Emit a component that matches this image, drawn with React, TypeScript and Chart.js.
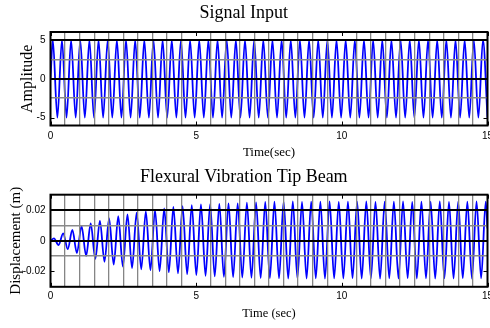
import React, { useEffect, useRef } from 'react';
import { Chart, registerables } from 'chart.js';

Chart.register(...registerables);

// ---------------- data ----------------
// Signal Input: times (s) of the start, every peak/trough, and the end
const TOP_TIMES = [
  0, 0.079, 0.236, 0.393, 0.55, 0.707, 0.864, 1.021, 1.178, 1.335, 1.492,
  1.649, 1.806, 1.963, 2.12, 2.278, 2.435, 2.592, 2.749, 2.906, 3.063,
  3.22, 3.377, 3.534, 3.691, 3.848, 4.005, 4.163, 4.32, 4.477, 4.634,
  4.791, 4.948, 5.105, 5.262, 5.419, 5.576, 5.733, 5.89, 6.048, 6.205,
  6.362, 6.519, 6.676, 6.833, 6.99, 7.147, 7.304, 7.461, 7.618, 7.775,
  7.933, 8.09, 8.247, 8.404, 8.561, 8.718, 8.875, 9.032, 9.189, 9.346,
  9.503, 9.66, 9.817, 9.975, 10.132, 10.289, 10.446, 10.603, 10.76, 10.917,
  11.074, 11.231, 11.388, 11.545, 11.702, 11.86, 12.017, 12.174, 12.331, 12.488,
  12.645, 12.802, 12.959, 13.116, 13.273, 13.43, 13.587, 13.745, 13.902, 14.059,
  14.216, 14.373, 14.53, 14.687, 14.844, 15,
];
const TOP_VALUES = [
  0, 5, -5, 5, -5, 5, -5, 5, -5, 5, -5,
  5, -5, 5, -5, 5, -5, 5, -5, 5, -5,
  5, -5, 5, -5, 5, -5, 5, -5, 5, -5,
  5, -5, 5, -5, 5, -5, 5, -5, 5, -5,
  5, -5, 5, -5, 5, -5, 5, -5, 5, -5,
  5, -5, 5, -5, 5, -5, 5, -5, 5, -5,
  5, -5, 5, -5, 5, -5, 5, -5, 5, -5,
  5, -5, 5, -5, 5, -5, 5, -5, 5, -5,
  5, -5, 5, -5, 5, -5, 5, -5, 5, -5,
  5, -5, 5, -5, 5, -5,
];

// Flexural Vibration Tip Beam: times (s) of the start, every peak/trough, and the end
const BOTTOM_TIMES = [
  0, 0.119, 0.277, 0.434, 0.592, 0.75, 0.907, 1.065, 1.223, 1.38, 1.538,
  1.696, 1.853, 2.011, 2.169, 2.326, 2.484, 2.642, 2.799, 2.957, 3.115,
  3.272, 3.43, 3.588, 3.745, 3.903, 4.061, 4.218, 4.376, 4.533, 4.691,
  4.849, 5.006, 5.164, 5.322, 5.479, 5.637, 5.795, 5.952, 6.11, 6.268,
  6.425, 6.583, 6.741, 6.898, 7.056, 7.214, 7.371, 7.529, 7.687, 7.844,
  8.002, 8.16, 8.317, 8.475, 8.633, 8.79, 8.948, 9.106, 9.263, 9.421,
  9.579, 9.736, 9.894, 10.052, 10.209, 10.367, 10.525, 10.682, 10.84, 10.998,
  11.155, 11.313, 11.471, 11.628, 11.786, 11.944, 12.101, 12.259, 12.416, 12.574,
  12.732, 12.889, 13.047, 13.205, 13.362, 13.52, 13.678, 13.835, 13.993, 14.151,
  14.308, 14.466, 14.624, 14.781, 14.939, 15,
];
const BOTTOM_VALUES = [
  0, 0.0015, -0.0028, 0.0048, -0.0054, 0.007, -0.008, 0.0096, -0.0098, 0.0113, -0.0118,
  0.013, -0.0137, 0.0146, -0.0155, 0.016, -0.0168, 0.0172, -0.0178, 0.0183, -0.0186,
  0.0192, -0.0192, 0.02, -0.0198, 0.021, -0.0205, 0.022, -0.0212, 0.0226, -0.0218,
  0.0232, -0.0224, 0.0236, -0.0228, 0.0239, -0.0232, 0.024, -0.0235, 0.0243, -0.0237,
  0.0244, -0.024, 0.0249, -0.0241, 0.025, -0.0243, 0.0253, -0.0244, 0.0255, -0.0245,
  0.0254, -0.0246, 0.0256, -0.0244, 0.0253, -0.0246, 0.0255, -0.0245, 0.0254, -0.0247,
  0.0256, -0.0245, 0.0253, -0.0246, 0.0255, -0.0244, 0.0254, -0.0246, 0.0256, -0.0245,
  0.0253, -0.0247, 0.0255, -0.0245, 0.0254, -0.0246, 0.0256, -0.0244, 0.0253, -0.0246,
  0.0255, -0.0245, 0.0254, -0.0247, 0.0256, -0.0245, 0.0253, -0.0246, 0.0255, -0.0244,
  0.0254, -0.0246, 0.0256, -0.0245, 0.0254, 0.008,
];

// tick labels
const X_LABEL_TICKS = [0, 5, 10, 15];
const TOP_Y_LABEL_TICKS = [-5, 0, 5];
const TOP_Y_DARK_LINES = [0, 5];
const BOTTOM_Y_LABEL_TICKS = [-0.02, 0, 0.02];
const BOTTOM_Y_LABEL_TEXT = ['-0.02', '0', '0.02'];
const BOTTOM_Y_DARK_LINES = [0, 0.02];

// ---------------- styling ----------------
const SERIF = '"Liberation Serif", "Times New Roman", Times, serif';
const NARROW = '"Liberation Sans Narrow", "Arial Narrow", "Liberation Sans", Arial, sans-serif';
const BLUE = '#0000ff';
const GRAY_V = '#858585';
const GRAY_H = '#8a8a8a';

const near = (a: number, b: number) => Math.abs(a - b) < 1e-9 + Math.abs(b) * 1e-6;
const inList = (v: number, list: number[]) => list.some((x) => near(v, x));

const framePlugin = {
  id: 'matlabFrame',
  afterDraw(chart: any, _args: any, opts: any) {
    const { ctx, chartArea: a, scales } = chart;
    ctx.save();
    ctx.strokeStyle = '#000';
    ctx.lineWidth = 1;
    const L = 4;
    ctx.beginPath();
    for (const v of opts.xTicks) {
      const p = Math.round(scales.x.getPixelForValue(v)) + 0.5;
      ctx.moveTo(p, a.bottom);
      ctx.lineTo(p, a.bottom - L);
      ctx.moveTo(p, a.top);
      ctx.lineTo(p, a.top + L);
    }
    for (const v of opts.yTicks) {
      const p = Math.round(scales.y.getPixelForValue(v)) + 0.5;
      ctx.moveTo(a.left, p);
      ctx.lineTo(a.left + L, p);
      ctx.moveTo(a.right, p);
      ctx.lineTo(a.right - L, p);
    }
    ctx.stroke();
    ctx.lineWidth = 2;
    ctx.strokeRect(a.left, a.top, a.right - a.left, a.bottom - a.top);
    ctx.restore();
  },
};

interface PanelSpec {
  times: number[];
  values: number[];
  title: string;
  xTitle: string;
  yTitle: string;
  yMin: number;
  yMax: number;
  yStep: number;
  yLabelTicks: number[];
  yLabelText: (v: number) => string;
  yDark: number[];
  yTitleSize: number;
  xTitleSize: number;
  geom: {
    titleTop: number;
    titleBottom: number;
    xAxisHeight: number;
    xTickPad: number;
    xTitleBottom: number;
    yTitleTop: number;
  };
}

function buildConfig(s: PanelSpec): any {
  const points = s.times.map((t, i) => ({ x: t, y: s.values[i] }));
  return {
    type: 'line',
    data: {
      datasets: [
        {
          data: points,
          borderColor: BLUE,
          borderWidth: 1.8,
          pointRadius: 0,
          cubicInterpolationMode: 'monotone',
          tension: 0.3,
          fill: false,
        },
      ],
    },
    plugins: [framePlugin],
    options: {
      responsive: false,
      animation: false,
      devicePixelRatio: 1,
      layout: { padding: { left: 0, right: 2.5, top: 0, bottom: 0 } },
      plugins: {
        legend: { display: false },
        tooltip: { enabled: false },
        title: {
          display: true,
          text: s.title,
          color: '#000',
          font: { family: SERIF, size: 18, weight: 'normal' },
          padding: { top: s.geom.titleTop, bottom: s.geom.titleBottom },
        },
        matlabFrame: { xTicks: X_LABEL_TICKS, yTicks: s.yLabelTicks },
      },
      scales: {
        x: {
          type: 'linear',
          min: 0,
          max: 15,
          border: { display: false },
          grid: {
            z: 1,
            drawTicks: false,
            color: (ctx: any) => (inList(ctx.tick.value, X_LABEL_TICKS) ? 'rgba(0,0,0,0)' : GRAY_V),
            lineWidth: 1.3,
          },
          ticks: {
            stepSize: 0.5,
            autoSkip: false,
            maxRotation: 0,
            minRotation: 0,
            padding: s.geom.xTickPad,
            color: '#000',
            font: { family: NARROW, size: 10 },
            callback: (v: number) => (inList(v, X_LABEL_TICKS) ? String(Math.round(v)) : ''),
          },
          title: {
            display: true,
            text: s.xTitle,
            color: '#000',
            font: { family: SERIF, size: s.xTitleSize },
            padding: { top: 0, bottom: s.geom.xTitleBottom },
          },
          afterFit: (sc: any) => {
            sc.height = s.geom.xAxisHeight;
            sc.paddingLeft = 0;
            sc.paddingRight = 0;
          },
        },
        y: {
          type: 'linear',
          min: s.yMin,
          max: s.yMax,
          border: { display: false },
          grid: {
            z: 1,
            drawTicks: false,
            color: (ctx: any) => {
              const v = ctx.tick.value;
              if (inList(v, s.yDark)) return '#000';
              if (inList(v, s.yLabelTicks) || near(v, s.yMin) || near(v, s.yMax)) return 'rgba(0,0,0,0)';
              return GRAY_H;
            },
            lineWidth: (ctx: any) => (inList(ctx.tick.value, s.yDark) ? 2 : 1.5),
          },
          ticks: {
            stepSize: s.yStep,
            includeBounds: false,
            autoSkip: false,
            padding: 5,
            color: '#000',
            font: { family: NARROW, size: 10 },
            callback: (v: number) => s.yLabelText(v),
          },
          title: {
            display: true,
            text: s.yTitle,
            color: '#000',
            font: { family: SERIF, size: s.yTitleSize },
            padding: { top: s.geom.yTitleTop, bottom: 0 },
          },
          afterFit: (sc: any) => {
            sc.width = 50.5;
            sc.paddingTop = 0;
            sc.paddingBottom = 0;
          },
        },
      },
    },
  };
}

const TOP_SPEC: PanelSpec = {
  times: TOP_TIMES,
  values: TOP_VALUES,
  title: 'Signal Input',
  xTitle: 'Time(sec)',
  yTitle: 'Amplitude',
  yMin: -6,
  yMax: 6,
  yStep: 2.5,
  yLabelTicks: TOP_Y_LABEL_TICKS,
  yLabelText: (v) => (inList(v, TOP_Y_LABEL_TICKS) ? String(v) : ''),
  yDark: TOP_Y_DARK_LINES,
  yTitleSize: 16,
  xTitleSize: 13,
  geom: { titleTop: 2.7, titleBottom: 7.7, xAxisHeight: 38.5, xTickPad: 5, xTitleBottom: 3.2, yTitleTop: 18 },
};

const BOTTOM_SPEC: PanelSpec = {
  times: BOTTOM_TIMES,
  values: BOTTOM_VALUES,
  title: 'Flexural Vibration Tip Beam',
  xTitle: 'Time (sec)',
  yTitle: 'Displacement (m)',
  yMin: -0.03,
  yMax: 0.03,
  yStep: 0.01,
  yLabelTicks: BOTTOM_Y_LABEL_TICKS,
  yLabelText: (v) => {
    const i = BOTTOM_Y_LABEL_TICKS.findIndex((x) => near(v, x));
    return i >= 0 ? BOTTOM_Y_LABEL_TEXT[i] : '';
  },
  yDark: BOTTOM_Y_DARK_LINES,
  yTitleSize: 15,
  xTitleSize: 12.5,
  geom: { titleTop: 2.7, titleBottom: 6.4, xAxisHeight: 41.2, xTickPad: 3.7, xTitleBottom: 7.2, yTitleTop: 7.5 },
};

function Panel({ spec }: { spec: PanelSpec }) {
  const ref = useRef<HTMLCanvasElement | null>(null);
  useEffect(() => {
    if (!ref.current) return;
    const chart = new Chart(ref.current, buildConfig(spec));
    return () => chart.destroy();
  }, [spec]);
  return <canvas ref={ref} width={490} height={164} style={{ display: 'block', width: 490, height: 164 }} />;
}

export default function App() {
  return (
    <div style={{ position: 'fixed', left: 0, top: 0, width: 490, height: 328, background: '#fff', overflow: 'hidden' }}>
      <Panel spec={TOP_SPEC} />
      <Panel spec={BOTTOM_SPEC} />
    </div>
  );
}
